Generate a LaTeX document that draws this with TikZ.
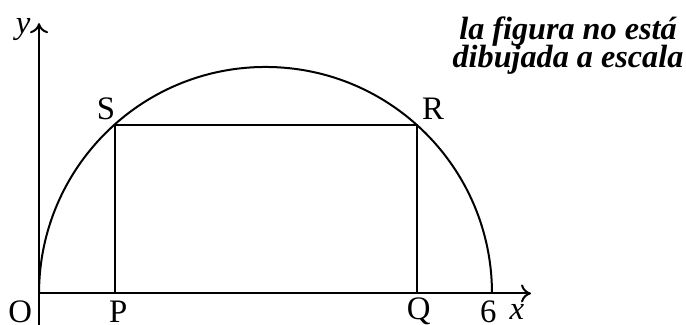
\documentclass[tikz,border=0pt]{standalone}
\usepackage{fontspec}
\setmainfont{Liberation Serif}
\usetikzlibrary{arrows.meta}

\begin{document}
\begin{tikzpicture}[x=37.75pt,y=37.75pt,line width=1pt,>={To[length=5pt,width=9pt]},
  lbl/.style={inner sep=0pt,font=\fontsize{16.4}{19}\selectfont},
  note/.style={inner sep=0pt,anchor=base,font=\fontsize{16.1}{19}\selectfont\bfseries\itshape}]
  \useasboundingbox (-0.517,-0.417) rectangle (8.570,3.887);
  \coordinate (O) at (0,0);
  \coordinate (P) at (1,0);
  \coordinate (Q) at (5,0);
  \coordinate (six) at (6,0);
  \coordinate (S) at (1,{sqrt(5)});
  \coordinate (R) at (5,{sqrt(5)});
  \coordinate (xend) at (6.517,0);
  \coordinate (ybot) at (0,-0.417);
  \coordinate (yend) at (0,3.58);
  % axes
  \draw[->] (O) -- (xend);
  \draw[->] (ybot) -- (yend);
  % semicircle and rectangle
  \draw (six) arc[start angle=0,end angle=180,radius=3];
  \draw (P) -- (S) -- (R) -- (Q);
  % labels
  \node[lbl] (lO) at (-0.25,-0.24) {O};
  \node[lbl] (lP) at (1.05,-0.24) {P};
  \node[lbl] (lQ) at (5.03,-0.24) {Q};
  \node[lbl] (l6) at (5.95,-0.24) {6};
  \node[lbl] (lx) at (6.33,-0.25) {\itshape x};
  \node[lbl] (ly) at (-0.21,3.50) {\itshape y};
  \node[lbl] (lS) at (0.887,2.444) {S};
  \node[lbl] (lR) at (5.218,2.444) {R};
  \node[note] (note1) at (7.007,3.358) {la figura no está};
  \node[note] (note2) at (7.007,2.987) {dibujada a escala};
\end{tikzpicture}
\end{document}
